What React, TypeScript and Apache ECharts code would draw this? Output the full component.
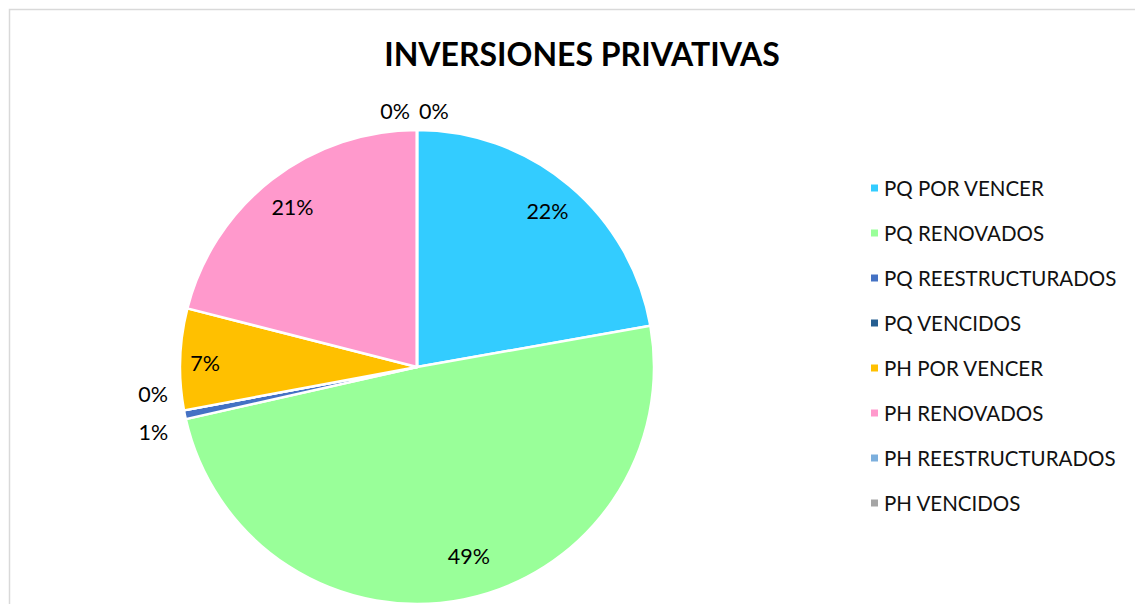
import React, { useEffect, useRef } from 'react';
import * as echarts from 'echarts';

const titleText = 'INVERSIONES PRIVATIVAS';
const categories = [
  'PQ POR VENCER',
  'PQ RENOVADOS',
  'PQ REESTRUCTURADOS',
  'PQ VENCIDOS',
  'PH POR VENCER',
  'PH RENOVADOS',
  'PH REESTRUCTURADOS',
  'PH VENCIDOS',
];
const values = [22.2, 49.2, 0.6, 0, 6.9, 21.0, 0, 0];
const colors = ['#33CCFF', '#99FF99', '#4472C4', '#255E91', '#FFC000', '#FF99CC', '#7CAFDD', '#A5A5A5'];

const FONT = 'Lato, "Open Sans", sans-serif';

export default function App() {
  const ref = useRef<HTMLDivElement>(null);
  useEffect(() => {
    if (!ref.current) return;
    const chart = echarts.init(ref.current, undefined, { renderer: 'svg' });
    const total = values.reduce((a, b) => a + b, 0);
    const center = [417, 367];
    const R = 237;
    const fmt = (p: any) => Math.round(p.percent) + '%';
    // label nudges (style only) to mimic Excel's best-fit placement
    const nudges: Record<number, [number, number]> = {
      1: [12, -10],
      2: [5, -19],
      3: [5, -19],
      4: [-9, 3],
    };
    chart.setOption({
      animation: false,
      backgroundColor: '#ffffff',
      color: colors,
      graphic: [
        {
          type: 'rect',
          shape: { x: 9.5, y: 9.5, width: 1400, height: 800 },
          style: { fill: 'none', stroke: '#d9d9d9', lineWidth: 1.5 },
          silent: true,
        },
      ],
      title: {
        text: titleText,
        left: 577,
        textAlign: 'center',
        top: 32,
        textStyle: { fontFamily: FONT, fontSize: 32, fontWeight: 'bold', color: '#000' },
      },
      legend: {
        orient: 'vertical',
        left: 864,
        top: 172,
        icon: 'rect',
        itemWidth: 9,
        itemHeight: 9,
        itemGap: 23,
        data: categories,
        textStyle: { fontFamily: FONT, fontSize: 20.5, color: '#111', lineHeight: 22 },
      },
      series: [
        {
          type: 'pie',
          center,
          radius: R,
          startAngle: 90,
          clockwise: true,
          avoidLabelOverlap: false,
          label: { show: false },
          labelLine: { show: false },
          itemStyle: { borderColor: '#ffffff', borderWidth: 2.5 },
          emphasis: { disabled: true },
          data: categories.map((n, i) => ({ name: n, value: values[i], itemStyle: { color: colors[i] } })),
        },
        {
          type: 'pie',
          center,
          radius: [163, R],
          startAngle: 90,
          clockwise: true,
          silent: true,
          itemStyle: { color: 'rgba(0,0,0,0)', borderWidth: 0 },
          emphasis: { disabled: true },
          label: {
            show: true,
            position: 'inside',
            formatter: fmt,
            fontFamily: FONT,
            fontSize: 21.5,
            color: '#000',
          },
          labelLine: { show: false, length: 17, length2: 0 },
          labelLayout: (p: any) => {
            const i = p.dataIndex;
            if (i === 6 || i === 7) {
              const r = p.rect || { x: center[0], y: center[1] - R };
              return {
                x: r.x + (i === 6 ? -7 : 2),
                y: r.y - 19,
                align: i === 6 ? 'right' : 'left',
                verticalAlign: 'middle',
              };
            }
            const n = nudges[i];
            if (n) return { dx: n[0], dy: n[1] };
            return {};
          },
          data: categories.map((n, i) => ({
            name: n,
            value: values[i],
            label: values[i] / total < 0.02 ? { position: 'outside', lineHeight: 36 } : undefined,
          })),
        },
      ],
    });
    return () => chart.dispose();
  }, []);
  return (
    <div
      ref={ref}
      style={{ position: 'fixed', left: 0, top: 0, width: 1135, height: 604 }}
    />
  );
}
